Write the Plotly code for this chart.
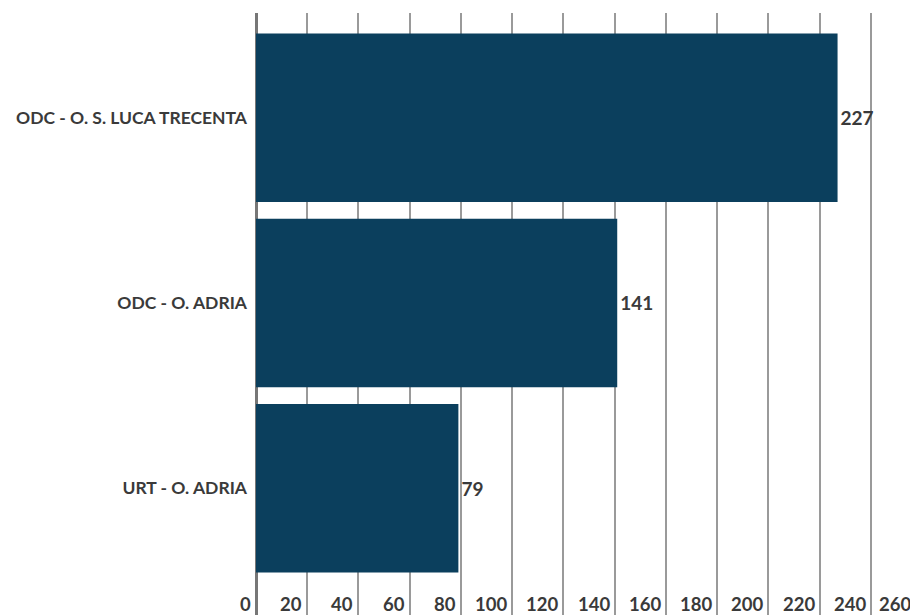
import plotly.graph_objects as go

categories = ["ODC - O. S. LUCA TRECENTA", "ODC - O. ADRIA", "URT - O. ADRIA"]
values = [227, 141, 79]
x_ticks = [0, 20, 40, 60, 80, 100, 120, 140, 160, 180, 200, 220, 240, 260]

bar_color = "#0b3f5d"
text_color = "#3a3a3a"
font_family = "Lato, 'Open Sans', sans-serif"
tick_font = dict(family=font_family, size=18.5, color=text_color, weight="bold")

fig = go.Figure(go.Bar(
    x=values, y=categories, orientation="h",
    marker=dict(color=bar_color, line=dict(width=0)),
    text=[str(v) for v in values], textposition="outside",
    textfont=dict(family=font_family, size=19, color=text_color, weight="bold"),
    cliponaxis=False,
))

# page body has an 8px margin; size the figure so it ends at the window edges
fig.update_layout(
    width=910, height=607,
    margin=dict(l=248, r=0, t=5, b=0, autoexpand=False),
    paper_bgcolor="white", plot_bgcolor="white",
    bargap=0.09, showlegend=False,
    font=dict(family=font_family, color=text_color),
)
fig.update_xaxes(
    range=[0, 258.4], tickvals=x_ticks, showticklabels=False,
    showgrid=True, gridcolor="#9a9a9a", gridwidth=1.5,
    zeroline=True, zerolinecolor="#777777", zerolinewidth=2.5,
    ticks="", showline=False, automargin=False,
)
fig.update_yaxes(
    range=[2.684, -0.565], ticks="", showgrid=False, automargin=False,
    tickfont=dict(family=font_family, size=17.5, color=text_color, weight="bold"),
    ticklabelstandoff=8,
)
# x tick labels sit inside the plot, just left of each grid line
for v in x_ticks[:-1]:
    fig.add_annotation(x=v, y=0, xref="x", yref="paper", text=str(v),
                       xanchor="right", yanchor="bottom", showarrow=False,
                       yshift=-2, xshift=-3, font=tick_font)
# last label: its grid line falls just beyond the window edge
fig.add_annotation(x=1, y=0, xref="paper", yref="paper", text=str(x_ticks[-1]),
                   xanchor="right", yanchor="bottom", showarrow=False,
                   yshift=-2, xshift=-5, font=tick_font)

fig.write_html("out.html")
